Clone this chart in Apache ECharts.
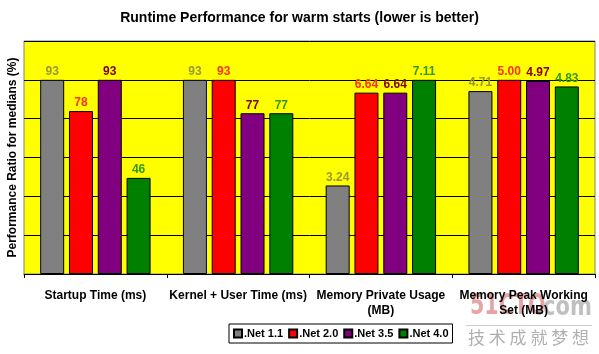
<!DOCTYPE html>
<html>
<head>
<meta charset="utf-8">
<script src="https://cdn.jsdelivr.net/npm/echarts@6/dist/echarts.min.js"></script>
<style>
  html, body { margin: 0; padding: 0; background: #fff; }
  #main { width: 599px; height: 354px; }
</style>
</head>
<body>
<div id="main"></div>
<script>
  // categories on the x axis
  const categories = ['Startup Time (ms)', 'Kernel + User Time (ms)', 'Memory Private Usage\n(MB)', 'Memory Peak Working\nSet (MB)']

  // bar heights (% of the best in each group)
  const net11 = [100, 100, 45.6, 94.2]
  const net20 = [83.9, 100, 93.4, 100]
  const net35 = [100, 82.8, 93.4, 99.4]
  const net40 = [49.5, 82.8, 100, 96.6]

  // numbers printed over the bars
  const net11Labels = ['93', '93', '3.24', '4.71']
  const net20Labels = ['78', '93', '6.64', '5.00']
  const net35Labels = ['93', '77', '6.64', '4.97']
  const net40Labels = ['46', '77', '7.11', '4.83']

  const font = '"Liberation Sans", Arial, sans-serif'

  function makeSeries(name, data, labels, color, labelColor) {
    return {
      name: name,
      type: 'bar',
      data: data,
      barWidth: 24,
      barGap: '20%',
      itemStyle: { color: color, borderColor: '#000', borderWidth: 1 },
      label: {
        show: true,
        position: 'top',
        distance: 2,
        color: labelColor,
        fontFamily: font,
        fontWeight: 'bold',
        fontSize: 12,
        formatter: p => labels[p.dataIndex]
      }
    }
  }

  const myChart = echarts.init(document.getElementById('main'))
  const option = {
    backgroundColor: '#fff',
    animation: false,
    title: {
      text: 'Runtime Performance for warm starts (lower is better)',
      left: 'center',
      top: 6,
      textStyle: { fontFamily: font, fontWeight: 'bold', fontSize: 14, color: '#000' }
    },
    grid: {
      left: 24, right: 4, top: 41, bottom: 80,
      outerBoundsMode: 'none',
      containLabel: false,
      show: true,
      backgroundColor: '#ffff00',
      borderColor: '#808080',
      borderWidth: 1
    },
    legend: {
      bottom: 11,
      left: 229,
      icon: 'rect',
      itemWidth: 8,
      itemHeight: 8,
      itemGap: 5,
      padding: [4, 4],
      borderColor: '#000',
      borderWidth: 1,
      textStyle: { fontFamily: font, fontWeight: 'bold', fontSize: 11, color: '#000', padding: [0, 0, 0, -3] },
      data: ['.Net 1.1', '.Net 2.0', '.Net 3.5', '.Net 4.0']
    },
    xAxis: {
      type: 'category',
      data: categories,
      axisLine: { lineStyle: { color: '#000', width: 1 } },
      axisTick: { show: true, length: 4, lineStyle: { color: '#000' } },
      axisLabel: {
        fontFamily: font,
        fontWeight: 'bold',
        fontSize: 12,
        color: '#000',
        margin: 14,
        lineHeight: 15,
        interval: 0
      }
    },
    yAxis: {
      type: 'value',
      min: 0,
      max: 120,
      interval: 20,
      name: 'Performance Ratio for medians (%)',
      nameLocation: 'middle',
      nameGap: 5,
      nameTextStyle: { fontFamily: font, fontWeight: 'bold', fontSize: 12, color: '#000' },
      axisLine: { show: false },
      axisTick: { show: false },
      axisLabel: { show: false },
      splitLine: { lineStyle: { color: '#000', width: 1 } }
    },
    graphic: [
      {
        type: 'text', x: 470, y: 293, scaleX: 0.82,
        style: { text: '51CTO', fill: 'rgba(210,90,90,0.55)', font: 'bold 28px "DejaVu Sans Condensed", sans-serif' }
      },
      {
        type: 'text', x: 535, y: 295, scaleX: 0.9,
        style: { text: '.com', fill: 'rgba(150,150,150,0.6)', font: 'bold 26px "DejaVu Sans Condensed", sans-serif' }
      },
      {
        type: 'rect', shape: { x: 466, y: 325, width: 126, height: 1 },
        style: { fill: 'rgba(170,170,170,0.6)' }
      },
      {
        type: 'text', x: 468, y: 329,
        style: { text: '技 术 成 就 梦 想', fill: '#b0b0b0', font: '17px "Noto Sans CJK SC", sans-serif' }
      }
    ],
    series: [
      makeSeries('.Net 1.1', net11, net11Labels, '#808080', '#999933'),
      makeSeries('.Net 2.0', net20, net20Labels, '#ff0000', '#ff3300'),
      makeSeries('.Net 3.5', net35, net35Labels, '#800080', '#800000'),
      makeSeries('.Net 4.0', net40, net40Labels, '#008000', '#339900')
    ]
  }
  myChart.setOption(option)
</script>
</body>
</html>
